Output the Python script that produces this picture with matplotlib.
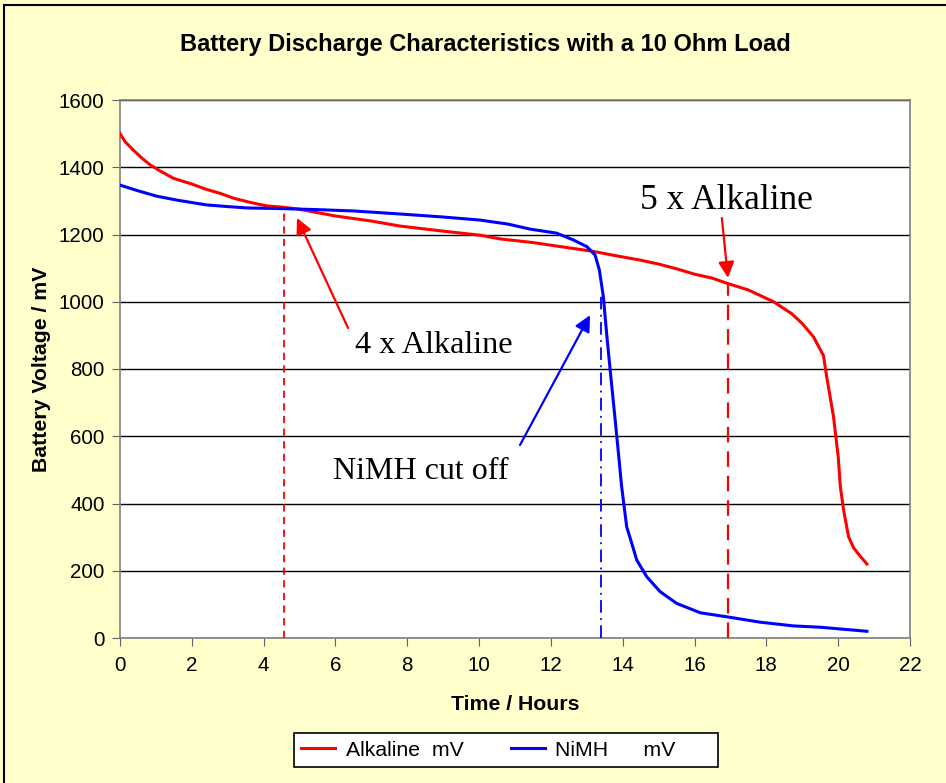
import matplotlib
matplotlib.use("Agg")
import matplotlib.pyplot as plt
from matplotlib.patches import Rectangle
import numpy as np

alk_t = [0, 0.15, 0.37, 0.6, 0.84, 1.1, 1.49, 2.0, 2.41, 2.8, 3.16, 3.6, 4.09, 4.55, 5.0, 5.5, 6.0, 7.0, 7.8, 9.0, 10.02,
         10.58, 11.5, 12.26, 13.17, 13.8, 14.48, 15.0, 15.5, 16.0, 16.5, 16.9, 17.5, 18.2, 18.7, 19.0, 19.31, 19.45, 19.59,
         19.68, 19.87, 20.0, 20.06, 20.15, 20.29, 20.43, 20.6, 20.8]
alk_v = [1500, 1475, 1451, 1428, 1407, 1390, 1367, 1350, 1334, 1322, 1308, 1296, 1285, 1281, 1275, 1265, 1255, 1240,
         1225, 1210, 1198, 1187, 1176, 1164, 1150, 1137, 1124, 1112, 1098, 1082, 1070, 1055, 1035, 1000, 965, 935, 896,
         868, 840, 777, 658, 540, 450, 381, 301, 268, 245, 220]

nimh_t = [0, 0.5, 1.02, 1.6, 2.41, 3.0, 3.53, 4.5, 5.5, 6.5, 7.8, 9.0, 10.02, 10.8, 11.42, 12.16, 12.62, 13.0, 13.23,
          13.35, 13.46, 13.56, 13.65, 13.79, 13.88, 13.97, 14.11, 14.25, 14.39, 14.67, 15.04, 15.5, 16.16, 16.9, 17.83,
          18.75, 19.5, 20.15, 20.8]
nimh_v = [1347, 1330, 1314, 1302, 1288, 1283, 1279, 1277, 1274, 1270, 1261, 1252, 1243, 1231, 1216, 1204, 1184, 1164,
          1139, 1094, 1015, 896, 797, 648, 550, 450, 331, 282, 232, 182, 138, 103, 75, 63, 47, 36, 32, 26, 20]

cut_alk4 = 4.57
cut_nimh = 13.4
cut_alk5 = 16.93

plt.rcParams['font.family'] = ['Liberation Sans', 'DejaVu Sans']

fig = plt.figure(figsize=(9.46, 7.83), dpi=100)
fig.patch.set_facecolor('#FFFFCC')
fig.patches.append(Rectangle((4/946, -0.05), 1.1, 1.05 - 5/783, transform=fig.transFigure,
                             fill=False, edgecolor='black', linewidth=1.5, zorder=10))

ax = fig.add_axes([120/946, 1 - 638/783, 790/946, 538/783])
ax.set_facecolor('white')

ax.plot(alk_t, alk_v, color='#FF0000', lw=2.2, label='Alkaline  mV', zorder=4)
ax.plot(nimh_t, nimh_v, color='#0000FF', lw=2.2, label='NiMH      mV      ', zorder=5)

v4 = np.interp(cut_alk4, alk_t, alk_v)
v5 = np.interp(cut_alk5, alk_t, alk_v)
ax.plot([cut_alk4, cut_alk4], [0, v4], color='#FF0000', lw=1.3, ls=(0, (4, 3)), zorder=3)
ax.plot([cut_alk5, cut_alk5], [0, v5], color='#FF0000', lw=1.6, ls=(0, (7, 4)), zorder=3)
ax.plot([cut_nimh, cut_nimh], [0, 1020], color='#0000FF', lw=1.3, ls=(0, (7, 3, 1, 3)), zorder=3)

ax.set_xlim(0, 22)
ax.set_ylim(0, 1600)
ax.set_xticks(range(0, 23, 2))
ax.set_yticks(range(0, 1601, 200))
ax.tick_params(labelsize=14.8, length=6, color='#606060', direction='out')
ax.tick_params(axis='y', pad=5)
ax.tick_params(axis='x', pad=7)
ax.grid(axis='y', color='black', lw=1)
ax.set_axisbelow(True)
for s in ax.spines.values():
    s.set_color('#808080')
    s.set_linewidth(1.2)

ax.set_xlabel('Time / Hours', fontsize=15.3, fontweight='bold', labelpad=14)
ax.set_ylabel('Battery Voltage / mV', fontsize=15.3, fontweight='bold', labelpad=6)
fig.text(485/946, 1 - 45/783, 'Battery Discharge Characteristics with a 10 Ohm Load',
         ha='center', va='center', fontsize=17, fontweight='bold')

serif = ['Liberation Serif', 'DejaVu Serif']
arrow_red = dict(arrowstyle='-|>', color='#FF0000', lw=1.6, mutation_scale=24, shrinkA=0, shrinkB=0)
arrow_blue = dict(arrowstyle='-|>', color='#0000FF', lw=1.6, mutation_scale=24, shrinkA=0, shrinkB=0)

ax.text(6.54, 871, '4 x Alkaline', fontsize=23.2, family=serif, ha='left', va='center', zorder=6)
ax.annotate('', xy=(4.93, 1249), xytext=(6.35, 922), arrowprops=arrow_red, zorder=6)

ax.text(14.48, 1302, '5 x Alkaline', fontsize=25.5, family=serif, ha='left', va='center', zorder=6)
ax.annotate('', xy=(16.93, 1071), xytext=(16.76, 1249), arrowprops=arrow_red, zorder=6)

ax.text(5.93, 494, 'NiMH cut off', fontsize=23, family=serif, ha='left', va='center', zorder=6)
ax.annotate('', xy=(13.09, 960), xytext=(11.14, 574), arrowprops=arrow_blue, zorder=6)

leg = fig.legend(loc='center', bbox_to_anchor=(506/946, 1 - 750/783), ncol=2, fontsize=15.3,
                 frameon=True, fancybox=False, edgecolor='black', facecolor='white', framealpha=1,
                 handlelength=1.6, handletextpad=0.5, columnspacing=2.2, borderpad=0.35)
leg.get_frame().set_linewidth(1.2)

fig.savefig('out.png', dpi=100, facecolor=fig.get_facecolor())
